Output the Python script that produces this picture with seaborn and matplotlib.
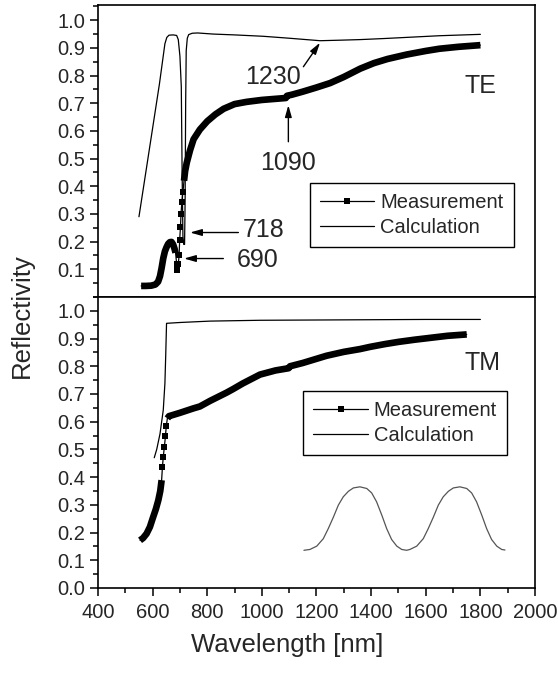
import numpy as np
import pandas as pd
import matplotlib
matplotlib.use("Agg")
import matplotlib.pyplot as plt
from matplotlib.lines import Line2D
from matplotlib.ticker import MultipleLocator, FormatStrFormatter
import seaborn as sns

# ---------------- data ----------------
# TE measurement
te_meas_wl = [558, 575, 595, 610, 620, 627, 633, 639, 645, 651, 657, 663, 669, 675, 680, 684,
              688, 691, 694, 697, 699, 702, 704, 707, 711, 715,
              719, 725, 737, 750, 773, 800, 830, 860, 900, 944, 1000, 1050, 1088, 1092, 1110,
              1150, 1200, 1250, 1300, 1360, 1410, 1460, 1530, 1600, 1650, 1720, 1800]
te_meas_r = [0.040, 0.040, 0.041, 0.045, 0.055, 0.075, 0.105, 0.140, 0.165, 0.180, 0.192, 0.198,
             0.199, 0.190, 0.175, 0.160,
             0.120, 0.097, 0.120, 0.150, 0.205, 0.253, 0.300, 0.343, 0.380, 0.420,
             0.455, 0.485, 0.530, 0.570, 0.605, 0.635, 0.660, 0.680, 0.697, 0.705, 0.712, 0.716,
             0.719, 0.727, 0.731, 0.742, 0.757, 0.773, 0.795, 0.825, 0.845, 0.860, 0.876, 0.889,
             0.897, 0.904, 0.910]
te_gap = (684, 715)

# TE calculation
te_calc_wl = [550, 575, 600, 625, 645, 652, 660, 675, 688, 694, 700, 705, 708, 711, 714, 717,
              719, 721, 723, 727, 732, 745, 765, 822, 900, 1005, 1100, 1213, 1290, 1359, 1450,
              1550, 1650, 1800]
te_calc_r = [0.29, 0.45, 0.61, 0.77, 0.915, 0.938, 0.946, 0.947, 0.945, 0.93, 0.87, 0.76, 0.45,
             0.22, 0.19, 0.19, 0.35, 0.70, 0.89, 0.935, 0.948, 0.953, 0.954, 0.950, 0.947, 0.942,
             0.935, 0.926, 0.928, 0.930, 0.934, 0.939, 0.944, 0.949]

# TM measurement
tm_meas_wl = [554, 565, 578, 590, 602, 612, 621, 628, 633,
              636, 639, 643, 647, 650,
              654, 660, 670, 700, 749, 773, 810, 871, 895, 930, 993, 1050, 1098, 1103, 1150,
              1237, 1300, 1359, 1396, 1450, 1500, 1560, 1620, 1680, 1750]
tm_meas_r = [0.172, 0.180, 0.196, 0.220, 0.256, 0.285, 0.317, 0.350, 0.389,
             0.437, 0.473, 0.509, 0.548, 0.584,
             0.612, 0.620, 0.623, 0.632, 0.648, 0.655, 0.675, 0.705, 0.718, 0.738, 0.770, 0.785,
             0.793, 0.800, 0.812, 0.838, 0.852, 0.862, 0.870, 0.880, 0.888, 0.896, 0.903, 0.910,
             0.915]
tm_gap = (633, 654)

# TM calculation
tm_calc_wl = [606, 615, 627, 639, 645, 648, 651, 700, 810, 993, 1200, 1400, 1600, 1800]
tm_calc_r = [0.47, 0.50, 0.556, 0.642, 0.738, 0.84, 0.955, 0.958, 0.963, 0.966, 0.967, 0.968,
             0.969, 0.969]

# inset profile curve (drawn in TM panel coordinates)
inset_wl = [1154, 1176, 1201, 1225, 1243, 1262, 1280, 1298, 1317, 1335, 1359, 1384, 1402,
            1420, 1439, 1457, 1475, 1494, 1512, 1530, 1542, 1567, 1591, 1609, 1628, 1646,
            1664, 1683, 1701, 1725, 1750, 1768, 1786, 1805, 1823, 1841, 1860, 1878, 1890]
inset_r = [0.136, 0.139, 0.151, 0.178, 0.214, 0.256, 0.299, 0.329, 0.349, 0.361, 0.365, 0.359,
           0.343, 0.311, 0.263, 0.214, 0.175, 0.151, 0.139, 0.136, 0.139, 0.151, 0.178, 0.214,
           0.256, 0.299, 0.329, 0.349, 0.361, 0.365, 0.359, 0.343, 0.311, 0.263, 0.214, 0.175,
           0.151, 0.139, 0.137]

legend_labels = ["Measurement", "Calculation"]
x_ticks = [400, 600, 800, 1000, 1200, 1400, 1600, 1800, 2000]

# ---------------- style ----------------
sns.set_style("ticks")
plt.rcParams["font.family"] = ["Liberation Sans", "DejaVu Sans"]

fig = plt.figure(figsize=(5.58, 6.77), dpi=100)
ax_te = fig.add_axes([0.1756, 0.5613, 0.7832, 0.4313])
ax_tm = fig.add_axes([0.1756, 0.1315, 0.7832, 0.4298])

THIN = 0.9
THICK = 4.8
MS = 4.4


def draw_measurement(ax, wl, r, gap):
    df = pd.DataFrame({"wl": wl, "r": r})
    sns.lineplot(data=df, x="wl", y="r", ax=ax, color="black", linewidth=THIN,
                 legend=False, estimator=None, sort=False)
    mid = df[(df.wl > gap[0]) & (df.wl < gap[1])]
    sns.lineplot(data=mid, x="wl", y="r", ax=ax, color="black", linestyle="",
                 marker="s", markersize=MS, markeredgewidth=0, markeredgecolor="black",
                 legend=False, estimator=None, sort=False)
    for part in (df[df.wl <= gap[0]], df[df.wl >= gap[1]]):
        sns.lineplot(data=part, x="wl", y="r", ax=ax, color="black", linewidth=THICK,
                     legend=False, estimator=None, sort=False, solid_capstyle="butt",
                     solid_joinstyle="round")


def draw_calc(ax, wl, r, color="black"):
    df = pd.DataFrame({"wl": wl, "r": r})
    sns.lineplot(data=df, x="wl", y="r", ax=ax, color=color, linewidth=THIN,
                 legend=False, estimator=None, sort=False)


draw_calc(ax_te, te_calc_wl, te_calc_r)
draw_measurement(ax_te, te_meas_wl, te_meas_r, te_gap)
draw_calc(ax_tm, tm_calc_wl, tm_calc_r)
draw_measurement(ax_tm, tm_meas_wl, tm_meas_r, tm_gap)
draw_calc(ax_tm, inset_wl, inset_r, color="#555555")

for ax, ytop in ((ax_te, 1.055), (ax_tm, 1.05)):
    ax.set_xlim(400, 2000)
    ax.set_ylim(0, ytop)
    ax.set_xlabel("")
    ax.set_ylabel("")
    ax.set_xticks(x_ticks)
    ax.xaxis.set_minor_locator(MultipleLocator(100))
    ax.yaxis.set_major_locator(MultipleLocator(0.1))
    ax.yaxis.set_minor_locator(MultipleLocator(0.05))
    ax.yaxis.set_major_formatter(FormatStrFormatter("%.1f"))
    ax.tick_params(which="major", direction="out", length=6, width=1.1,
                   labelsize=14.5, pad=3, color="black")
    ax.tick_params(which="minor", direction="out", length=3.5, width=1.1, color="black")
    for sp in ax.spines.values():
        sp.set_visible(True)
        sp.set_linewidth(1.2)
        sp.set_color("black")
    ax.set_facecolor("white")

ax_tm.tick_params(axis="x", which="major", pad=5)
ax_te.tick_params(axis="x", which="both", bottom=False, labelbottom=False)
ax_te.set_yticks(np.round(np.arange(0.1, 1.01, 0.1), 1))

# legends
handles = [Line2D([], [], color="black", lw=THIN, marker="s", ms=5, mew=0),
           Line2D([], [], color="black", lw=THIN)]
for ax, anchor in ((ax_te, (0.485, 0.3914)), (ax_tm, (0.47, 0.678))):
    leg = ax.legend(handles, legend_labels, loc="upper left", bbox_to_anchor=anchor,
                    bbox_transform=ax.transAxes, borderaxespad=0, fontsize=14.5,
                    frameon=True, fancybox=False, framealpha=1, edgecolor="black",
                    handlelength=2.7, handletextpad=0.3, borderpad=0.5, labelspacing=0.3,
                    numpoints=1)
    leg.get_frame().set_linewidth(1.0)

# panel labels
ax_te.text(1802, 0.762, "TE", fontsize=18, ha="center", va="center")
ax_tm.text(1808, 0.813, "TM", fontsize=18, ha="center", va="center")

# annotations (TE panel)
arrow = dict(arrowstyle="-|>,head_length=0.7,head_width=0.2", color="black", lw=1.0,
             shrinkA=0, shrinkB=0)
ax_te.annotate("", xy=(1213, 0.919), xytext=(1152, 0.832), arrowprops=arrow)
ax_te.text(1039, 0.795, "1230", fontsize=18, ha="center", va="center")
ax_te.annotate("", xy=(1097, 0.693), xytext=(1097, 0.561), arrowprops=arrow)
ax_te.text(1097, 0.485, "1090", fontsize=18, ha="center", va="center")
ax_te.annotate("", xy=(737, 0.233), xytext=(914, 0.233), arrowprops=arrow)
ax_te.text(1008, 0.241, "718", fontsize=18, ha="center", va="center")
ax_te.annotate("", xy=(715, 0.139), xytext=(859, 0.139), arrowprops=arrow)
ax_te.text(986, 0.133, "690", fontsize=18, ha="center", va="center")

# axis labels
fig.text(287 / 558, 1 - 645 / 677, "Wavelength [nm]", fontsize=18.5, ha="center", va="center")
fig.text(22 / 558, 1 - 316 / 677, "Reflectivity", fontsize=18.5, ha="center", va="center",
         rotation=90)

fig.savefig("out.png", dpi=100, facecolor="white")
